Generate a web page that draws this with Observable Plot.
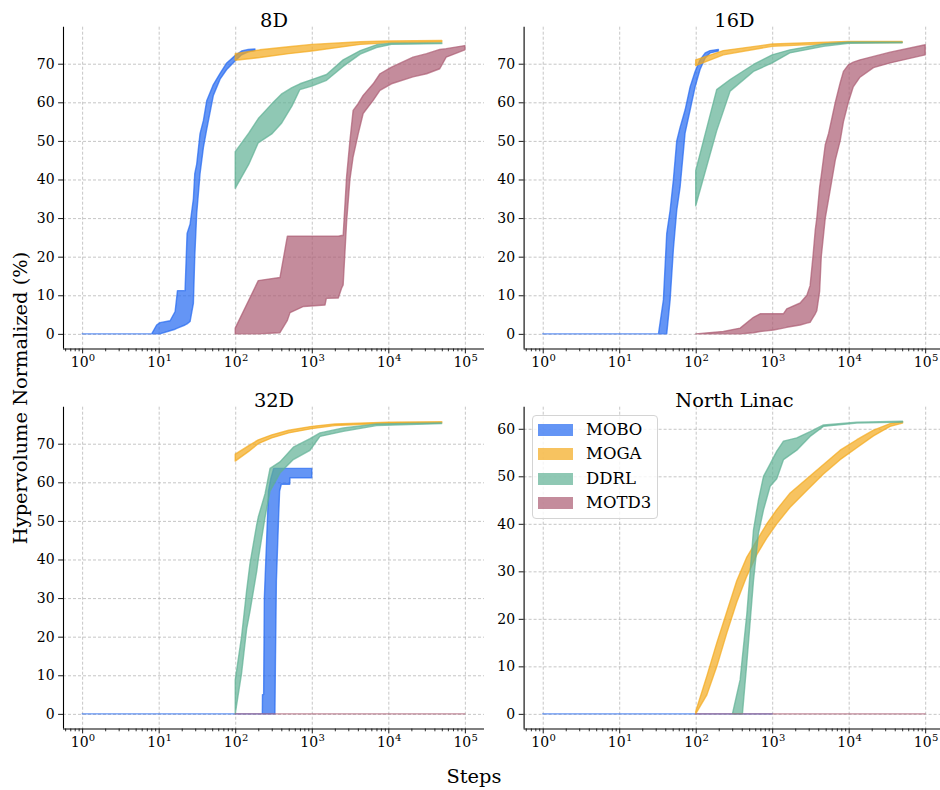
<!DOCTYPE html>
<html><head><meta charset="utf-8">
<script src="https://cdn.jsdelivr.net/npm/d3@7"></script>
<script src="https://cdn.jsdelivr.net/npm/@observablehq/plot@0.6"></script>
<style>
html,body{margin:0;padding:0;background:#fff;overflow:hidden;}
#wrap{position:relative;width:940px;height:790px;overflow:hidden;font-family:"DejaVu Serif",serif;color:#000;}
.panel{position:absolute;}
.lab{position:absolute;white-space:nowrap;transform:translate(-50%,-50%);}
#legend{position:absolute;left:532px;top:415px;width:126px;height:104px;box-sizing:border-box;border:1px solid #d4d4d4;border-radius:4px;background:rgba(255,255,255,0.8);}
.row{position:absolute;left:0;height:24px;}
.patch{position:absolute;left:5px;width:35px;height:12px;}
.ltxt{position:absolute;left:53px;font-size:16.5px;line-height:16px;}
</style></head><body>
<div id="wrap"></div>
<script>
const methods = ["MOBO", "MOGA", "DDRL", "MOTD3"];
const colors = ["#2268f1", "#f3a91c", "#5fb094", "#ab5b72"];
const panelTitles = ["8D", "16D", "32D", "North Linac"];
const xTicks = [1, 10, 100, 1000, 10000, 100000];
const xExponents = ["0", "1", "2", "3", "4", "5"];
const yTicksA = [0, 10, 20, 30, 40, 50, 60, 70];
const yTicksB = [0, 10, 20, 30, 40, 50, 60];

// each row: [steps, lower, upper]
const mobo8 = [[1,0,0],[8.1,0,0],[9.4,0,2.3],[10.4,0,2.9],[14.1,0.8,3.4],[16.4,1.2,5.8],[17.6,1.5,11.2],[22.1,2.3,11.2],[23.5,2.6,26],[25.7,3.2,28.4],[28.4,7.9,35],[29.6,20,41.5],[31.4,31.2,44],[34.7,41.5,51.9],[38.4,48.3,55.3],[42.4,53,60.4],[51.8,61.8,64.6],[63.4,66,67.5],[77.4,68.5,70.2],[99.4,70.7,72.1],[121,72.3,73.3],[148,73.1,73.7],[181,73.5,73.8]];
const moga8 = [[100,70.9,72.6],[210,71.6,73.6],[500,72.6,74.4],[1000,73.3,75.0],[4300,75.0,75.7],[10000,75.4,75.9],[50000,75.6,76.0]];
const ddrl8 = [[100,37.7,47.2],[150,43.9,52],[200,49.5,55.8],[300,51.8,59.6],[400,54.5,62.1],[550,59,63.8],[700,63.3,64.8],[1000,64.2,65.9],[1560,65.7,67.2],[2570,69.3,71],[4300,72.5,73.4],[7000,74.2,74.9],[11000,75.0,75.3],[50000,75.2,75.4]];
const motd8 = [[100,0,1.5],[200,0,13.8],[384,0.3,14.6],[480,3.5,25.3],[520,5.5,25.3],[780,7.1,25.3],[1490,7.5,25.3],[1550,9.2,25.3],[2220,9.3,25.3],[2450,11.8,25.5],[2570,12.7,25.5],[2850,29,40.7],[3150,40,50],[3470,45.9,57.9],[4050,51.9,59.7],[4690,57.1,61.8],[6340,60.5,64.8],[7780,63.1,67.4],[11000,64.8,69.1],[21000,66.6,71.7],[31600,67.4,72.6],[47000,68.7,73.7],[57000,71.7,73.9],[100000,73.6,74.7]];

const mobo16 = [[1,0,0],[32.6,0,0],[37.8,0,8.8],[41.8,0,26],[46.3,8.8,32],[51.1,22,40],[56.5,32,50],[62.5,38,53.5],[72.6,52,58],[84.5,58,64],[98.2,64,68],[114,68.5,71],[133,71.5,72.8],[154,72.8,73.4],[198,73.3,73.7]];
const moga16 = [[100,69.5,71],[230,72.3,73.4],[1000,74.5,75.1],[10000,75.4,75.8],[50000,75.5,75.8]];
const ddrl16 = [[100,33.2,42.3],[188,52.6,63.3],[282,62.9,65.9],[569,68,69.8],[1000,70.2,72.3],[1700,72.8,73.6],[4690,74.5,75.1],[10000,75.3,75.6],[50000,75.4,75.6]];
const motd16 = [[100,0,0],[230,0,0.6],[381,0,1.5],[569,0.3,4.3],[695,0.6,5.2],[1040,1.0,5.2],[1400,1.5,5.2],[1550,1.7,6.5],[2320,2.3,8.0],[2840,2.8,10],[3130,3.0,12.5],[3410,4.2,20],[3660,5.2,27],[3830,6,30],[4170,11,38],[4380,20,41],[4940,30,49],[5470,35,52],[6050,40,56],[6680,45,60],[7730,50,65],[8540,55,68],[9900,60,69.7],[11480,64,70.4],[14050,66.5,71],[21100,69,71.9],[34800,70.2,73],[100000,72.3,74.9]];

const mobo32 = [[1,0,0],[226,0,0],[227,0,5],[235,0,5],[240,0,30],[257,0,45],[272,0,57.7],[292,0,61],[318,0,63.6],[330,0,63.6],[335,13,63.6],[345,34.5,63.6],[370,51.7,63.6],[380,57.7,63.6],[400,59.5,63.6],[515,59.5,63.6],[520,61.2,63.6],[1000,61.2,63.6]];
const moga32 = [[100,65.5,67.3],[150,68,69.5],[200,70,71],[300,71.5,72.3],[500,72.8,73.5],[1000,73.9,74.5],[2000,74.7,75.1],[10000,75.3,75.6],[50000,75.4,75.7]];
const ddrl32 = [[100,0,8.8],[121,10.5,20],[141,22,32],[156,26.6,39],[191,37,49.1],[200,40,51],[245,50.9,57],[285,57.7,63.6],[384,62.4,65.3],[574,65.9,69.1],[948,68.3,71.3],[1280,71.9,72.8],[2580,73.2,74.1],[7030,74.7,75.1],[49600,75.2,75.4]];
const motd32 = [[100,0,0],[100000,0,0]];

const moboNL = [[1,0,0],[1000,0,0]];
const mogaNL = [[100,0,0.5],[140,4,8],[189,10,15],[255,17,21.5],[344,23.5,28],[466,29,33],[629,33.5,36.5],[849,37,40],[1148,40,43],[1717,43.5,46.5],[2834,47,49.5],[4680,50.5,52.5],[7730,53.5,55.5],[12770,56,57.7],[21100,58.5,59.7],[34800,60.5,61.1],[50600,61.2,61.5]];
const ddrlNL = [[302,0,0],[381,0,7.2],[408,0,12],[466,10.7,21],[569,28,38.7],[661,38,45],[769,42.9,50],[940,47.9,52.6],[1148,49.5,55.3],[1403,53.5,57.4],[2098,55.5,58.1],[3130,58.4,59.4],[4680,60.5,60.8],[12770,61.2,61.4],[50600,61.4,61.6]];
const motdNL = [[100,0,0],[100000,0,0]];

const xDomain = [Math.pow(10,-0.25), Math.pow(10,5.25)];
const minor = [];
for (let e = -1; e <= 5; e++) for (let k = 2; k <= 9; k++) { const v = k * Math.pow(10, e); if (v > xDomain[0] && v < xDomain[1]) minor.push(v); }

const wrap = document.getElementById("wrap");
const gridStyle = {stroke: "#b0b0b0", strokeOpacity: 0.9, strokeDasharray: "3,2", strokeWidth: 0.8};

function panel(title, series, yDomain, yTicks, left, top, mLeft, mRight, width) {
  const p = Plot.plot({
    width: width, height: 380,
    marginLeft: mLeft, marginRight: mRight, marginTop: 26.7, marginBottom: 31.5,
    style: {fontFamily: "DejaVu Serif", fontSize: "14px", background: "transparent", color: "#000", overflow: "visible"},
    x: {type: "log", domain: xDomain},
    y: {domain: yDomain},
    marks: [
      Plot.gridX(xTicks, gridStyle),
      Plot.gridY(yTicks, gridStyle),
      ...series.map((s, i) => Plot.areaY(s, {x: d => d[0], y1: d => d[1], y2: d => d[2], fill: colors[i], fillOpacity: 0.7, stroke: colors[i], strokeOpacity: 0.7, strokeWidth: 1.4})),
      Plot.axisX(minor, {tickSize: 2.8, tickFormat: () => "", strokeWidth: 0.8, label: null}),
      Plot.axisX(xTicks, {tickSize: 4.9, tickFormat: () => "", strokeWidth: 0.9, label: null}),
      Plot.text(xTicks, {x: d => d, y: () => yDomain[0], text: () => "10", lineAnchor: "bottom", dy: 18.4, dx: -3, fontSize: 14}),
      Plot.text(xTicks, {x: d => d, y: () => yDomain[0], text: (d, i) => xExponents[i], textAnchor: "start", lineAnchor: "bottom", dy: 12.4, dx: 6.2, fontSize: 10}),
      Plot.axisY(yTicks, {tickSize: 4.9, tickPadding: 4, fontSize: 14, strokeWidth: 0.9, label: null}),
      Plot.ruleX([xDomain[0]], {stroke: "#000", strokeWidth: 1.1}),
      Plot.ruleY([yDomain[0]], {stroke: "#000", strokeWidth: 1.1}),
      Plot.text([title], {frameAnchor: "top", dy: -14, fontSize: 19.4, text: d => d})
    ]
  });
  p.classList.add("panel");
  p.style.left = left + "px";
  p.style.top = top + "px";
  wrap.appendChild(p);
}

const domA = [-3.79, 79.59];
const domB = [-3.08, 64.65];
panel(panelTitles[0], [mobo8, moga8, ddrl8, motd8], domA, yTicksA, 0, 0, 63, 6, 490);
panel(panelTitles[1], [mobo16, moga16, ddrl16, motd16], domA, yTicksA, 470, 0, 53.6, 1.7, 476);
panel(panelTitles[2], [mobo32, moga32, ddrl32, motd32], domA, yTicksA, 0, 380, 63, 6, 490);
panel(panelTitles[3], [moboNL, mogaNL, ddrlNL, motdNL], domB, yTicksB, 470, 380, 53.6, 1.7, 476);

function label(text, x, y, size, rot) {
  const d = document.createElement("div");
  d.className = "lab";
  d.textContent = text;
  d.style.left = x + "px"; d.style.top = y + "px"; d.style.fontSize = size + "px";
  if (rot) d.style.transform = "translate(-50%,-50%) rotate(-90deg)";
  wrap.appendChild(d);
}
label("Hypervolume Normalized (%)", 20, 398, 19.4, true);
label("Steps", 474, 776, 19.4, false);

const lg = document.createElement("div");
lg.id = "legend";
methods.forEach((m, i) => {
  const r = document.createElement("div");
  r.className = "row";
  r.style.top = (7.5 + i * 24.5) + "px";
  const pa = document.createElement("div");
  pa.className = "patch";
  pa.style.background = colors[i];
  pa.style.opacity = 0.7;
  pa.style.top = "0px";
  const t = document.createElement("div");
  t.className = "ltxt";
  t.style.top = "-2px";
  t.textContent = m;
  r.appendChild(pa); r.appendChild(t);
  lg.appendChild(r);
});
wrap.appendChild(lg);
</script>
</body></html>
